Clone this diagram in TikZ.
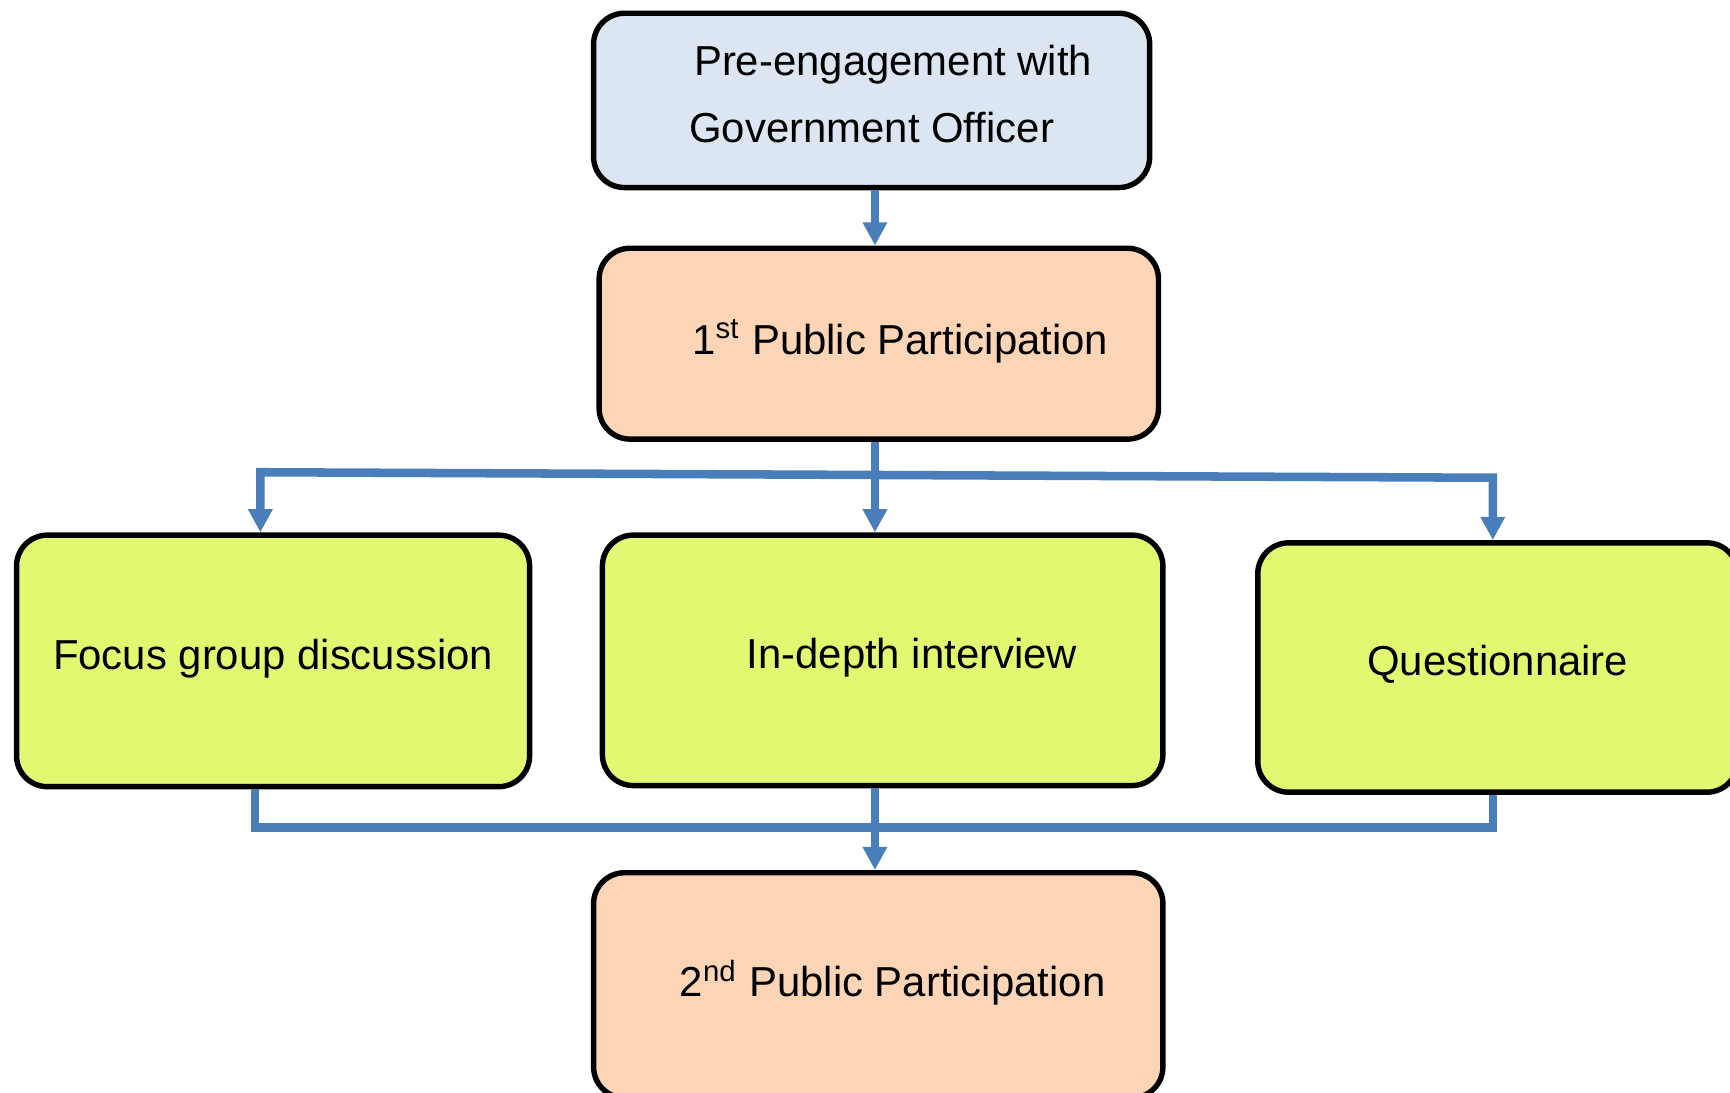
\documentclass[tikz,border=0pt]{standalone}
\usepackage{fontspec}
\setmainfont{Liberation Sans}
\usepackage{tikz}
\usetikzlibrary{arrows.meta}

\definecolor{preblue}{HTML}{DCE6F2}
\definecolor{ppeach}{HTML}{FBD5B5}
\definecolor{methgreen}{HTML}{E3F870}
\definecolor{lineblue}{HTML}{4A7EBB}

\begin{document}
\begin{tikzpicture}[
    pbox/.style={rectangle, rounded corners=0.28cm, draw=black, line width=1.4pt, align=center,
      text depth=3.5pt, font=\fontsize{10.8}{17.4}\selectfont},
    flow/.style={draw=lineblue, line width=2.2pt},
    tip/.style={-{Triangle[length=6pt,width=6pt]}}]
        \useasboundingbox (0,0) rectangle (15.68,-9.90);
        \clip (0,0) rectangle (15.68,-9.90);

        % Punti dei collegamenti
        \coordinate (mid) at (7.93,0);
        \coordinate (bl) at (2.36,-4.28);
        \coordinate (br) at (13.53,-4.33);
        \coordinate (ml) at (2.31,-7.50);
        \coordinate (mr) at (13.53,-7.50);

        % Livello superiore
        \node (pre) at (7.90,-0.91) [pbox, fill=preblue, minimum width=5.04cm, minimum height=1.58cm]
          {\hspace*{0.39cm}Pre-engagement with\\Government Officer};
        \node (first) at (7.965,-3.115) [pbox, fill=ppeach, minimum width=5.07cm, minimum height=1.73cm]
          {\hspace*{0.39cm}1\textsuperscript{st} Public Participation};

        % Metodi
        \node (fgd) at (2.475,-5.99) [pbox, fill=methgreen, minimum width=4.65cm, minimum height=2.28cm]
          {Focus group discussion};
        \node (indepth) at (8.00,-5.985) [pbox, fill=methgreen, minimum width=5.08cm, minimum height=2.27cm]
          {\hspace*{0.53cm}In-depth interview};
        \node (quest) at (13.575,-6.05) [pbox, fill=methgreen, minimum width=4.35cm, minimum height=2.26cm]
          {Questionnaire};

        % Livello inferiore
        \node (second) at (7.96,-8.93) [pbox, fill=ppeach, minimum width=5.16cm, minimum height=2.04cm]
          {\hspace*{0.26cm}2\textsuperscript{nd} Public Participation};

        % Collegamenti
        \draw[flow, tip] (pre.south -| mid) -- (first.north -| mid);
        \draw[flow, tip] (first.south -| mid) -- (indepth.north -| mid);
        \draw[flow, {Triangle[length=6pt,width=6pt]}-{Triangle[length=6pt,width=6pt]}]
          (fgd.north -| bl) -- (bl) -- (br) -- (quest.north -| br);
        \draw[flow] (fgd.south -| ml) -- (ml) -- (mr) -- (quest.south -| mr);
        \draw[flow, tip] (indepth.south -| mid) -- (second.north -| mid);
    \end{tikzpicture}
\end{document}
